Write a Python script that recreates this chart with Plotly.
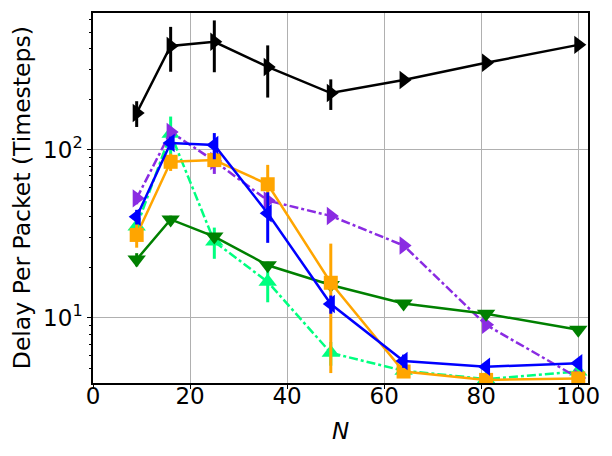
import plotly.graph_objects as go

# data
N = [9, 16, 25, 36, 49, 64, 81, 100]

black = [166, 416, 440, 312, 218, 261, 330, 422]
black_err = [29, 124, 150, 107, 45, 0, 0, 0]

blue = [40, 110, 107, 42, 12.1, 5.55, 5.13, 5.37]
blue_err = [4, 10, 19, 14, 1.5, 0.5, 0.2, 0.3]

orange = [31.2, 85, 87, 62.5, 16.2, 4.8, 4.28, 4.37]
orange_err = [5, 10, 6, 19, 11.5, 0.4, 0.1, 0.1]

green = [22.3, 38.6, 30.5, 20.6, 15.7, 12.2, 10.6, 8.5]
green_err = [2, 2, 1.5, 1, 1, 0.4, 0.3, 0.3]

spring = [35, 125, 28.5, 16.4, 6.2, 4.85, 4.33, 4.8]
spring_err = [3, 33, 6, 4, 1, 0.2, 0.1, 0.2]

purple = [51.5, 128, 86, 50, 40.5, 27, 9.1, 4.4]
purple_err = [4, 6, 14, 2, 2, 1, 0.3, 0.2]

series = [
    (black, black_err, "black", "triangle-right", "solid"),
    (spring, spring_err, "springgreen", "triangle-up", "dashdot"),
    (purple, purple_err, "blueviolet", "triangle-right", "dashdot"),
    (green, green_err, "green", "triangle-down", "solid"),
    (orange, orange_err, "orange", "square", "solid"),
    (blue, blue_err, "blue", "triangle-left", "solid"),
]

fig = go.Figure()
for y, err, col, sym, dash in series:
    fig.add_trace(go.Scatter(
        x=N, y=y, mode="lines+markers",
        line=dict(color=col, width=2.5, dash=dash),
        marker=dict(color=col, symbol=sym, size=16 if sym != "square" else 14),
        error_y=dict(type="data", array=err, color=col, thickness=3, width=0),
        showlegend=False,
    ))

minor_vals = [5, 6, 7, 8, 9, 20, 30, 40, 50, 60, 70, 80, 90, 200, 300, 400, 500, 600]

fig.update_layout(
    width=612, height=456,
    margin=dict(l=93, r=24, t=13, b=73),
    paper_bgcolor="white", plot_bgcolor="white",
    font=dict(family="DejaVu Sans", size=23, color="black"),
)
fig.update_xaxes(
    range=[0, 102], tickvals=[0, 20, 40, 60, 80, 100],
    showgrid=True, gridcolor="#b0b0b0", gridwidth=1,
    showline=True, linecolor="black", linewidth=1.5, mirror=True,
    ticks="outside", ticklen=4, tickcolor="black",
    tickfont=dict(size=23), ticklabelstandoff=-12,
    title=dict(text="<i>N</i>", font=dict(size=23)),
    zeroline=False, automargin=False,
)
fig.update_yaxes(
    type="log", range=[0.613, 2.815],
    tickvals=[10, 100], ticktext=["10<sup>1</sup>", "10<sup>2</sup>"],
    showgrid=True, gridcolor="#b0b0b0", gridwidth=1,
    showline=True, linecolor="black", linewidth=1.5, mirror=True,
    ticks="outside", ticklen=4, tickcolor="black",
    tickfont=dict(size=23),
    minor=dict(tickvals=minor_vals, ticks="outside", ticklen=2.5, tickcolor="black", showgrid=False),
    zeroline=False, automargin=False,
)
fig.add_annotation(
    text="Delay Per Packet (Timesteps)", textangle=-90,
    xref="paper", yref="paper", x=-0.143, y=0.5,
    xanchor="center", yanchor="middle", showarrow=False,
    font=dict(size=23.5),
)

fig.write_html("out.html", config={"displayModeBar": False},
               post_script="document.body.style.margin='0';")
